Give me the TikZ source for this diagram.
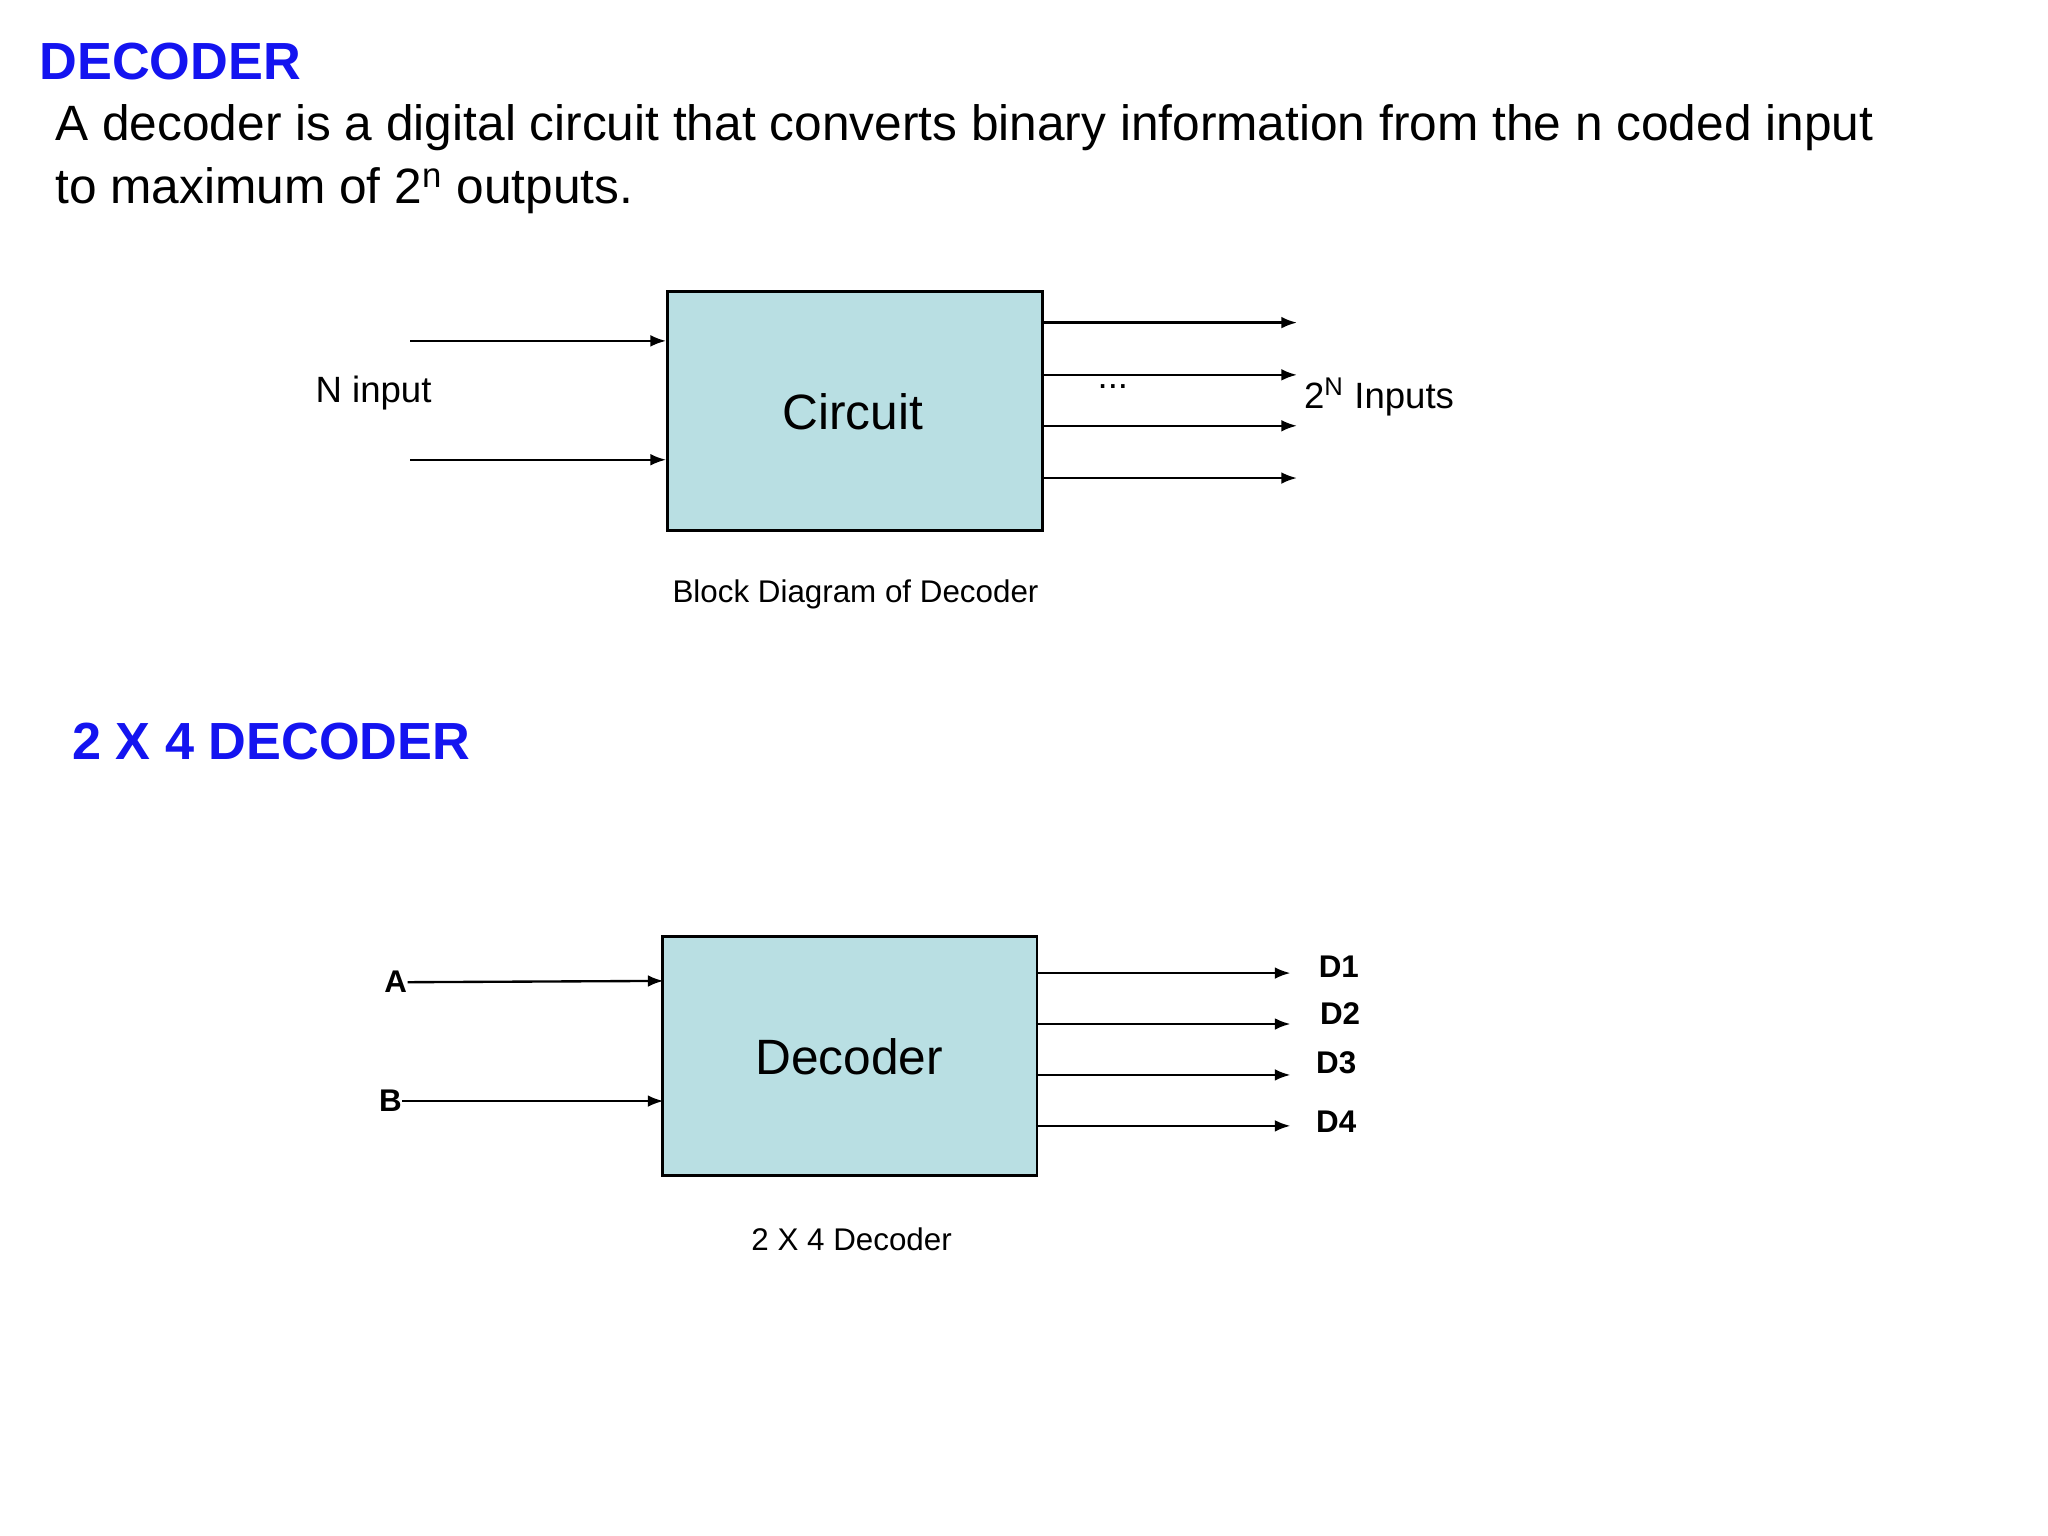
\documentclass[tikz,border=0pt]{standalone}
\usepackage{fontspec}
\setmainfont{Liberation Sans}
\usetikzlibrary{arrows.meta}
\definecolor{boxfill}{HTML}{B9DFE3}
\definecolor{ttl}{HTML}{1414F0}
\begin{document}
\begin{tikzpicture}[x=0.5pt,y=-0.5pt,
  blk/.style={draw,line width=1pt,fill=boxfill,anchor=north west,inner sep=0},
  arr/.style={-{Latex[length=6pt,width=4.5pt]},line width=0.9pt},
  title/.style={text=ttl,font=\fontsize{20}{24}\selectfont\bfseries,anchor=west,inner sep=0},
  lbl/.style={font=\fontsize{14}{17}\selectfont,inner sep=0},
  dl/.style={font=\fontsize{12}{14}\selectfont\bfseries,inner sep=0}]
\useasboundingbox[fill=white] (0,0) rectangle (1568,1176);
\node[title] (t1) at (30,47) {DECODER};
\node[anchor=west,inner sep=0,font=\fontsize{19}{24}\selectfont] (p1) at (42,98) {A decoder is a digital circuit that converts binary information from the n coded input};
\node[anchor=west,inner sep=0,font=\fontsize{19}{24}\selectfont] (p2) at (42,146) {to maximum of 2\textsuperscript{n} outputs.};
% block diagram
\node[blk,minimum width=143.5pt,minimum height=91.5pt] (c) at (510,222) {};
\node[font=\fontsize{19}{23}\selectfont,inner sep=0] (ct) at (653,315) {Circuit};
\coordinate (i1) at (314,261); \coordinate (i2) at (314,352);
\draw[arr] (i1) -- (510,261);
\draw[arr] (i2) -- (510,352);
\node[lbl] (ni) at (286,301) {N input};
\foreach \y [count=\k] in {247,287,326,366}{
  \coordinate (o\k) at (993,\y);
  \draw[arr] (797,\y) -- (o\k);}
\node[lbl] (dots) at (852,296) {...};
\node[lbl,anchor=west] (ni2) at (998,304) {2\textsuperscript{N} Inputs};
\node[font=\fontsize{12}{14}\selectfont,inner sep=0] (cap1) at (655,455) {Block Diagram of Decoder};
% 2x4
\node[title] (t2) at (55,568) {2 X 4 DECODER};
\node[blk,minimum width=143.5pt,minimum height=91.5pt] (d) at (506,716) {};
\node[font=\fontsize{19}{23}\selectfont,inner sep=0] (dt) at (650,809) {Decoder};
\node[dl] (A) at (303,752) {A};
\node[dl] (B) at (299,843) {B};
\draw[arr] (A.east) -- (508,751);
\draw[arr] (B.east) -- (508,843);
\foreach \y/\lx/\ly [count=\k] in {745/1025/740,784/1026/776,823/1023/814,862/1023/859}{
  \node[dl] (D\k) at (\lx,\ly) {D\k};
  \draw[arr] (793,\y) -- (988,\y);}
\node[font=\fontsize{12}{14}\selectfont,inner sep=0] (cap2) at (652,949) {2 X 4 Decoder};
\end{tikzpicture}
\end{document}
